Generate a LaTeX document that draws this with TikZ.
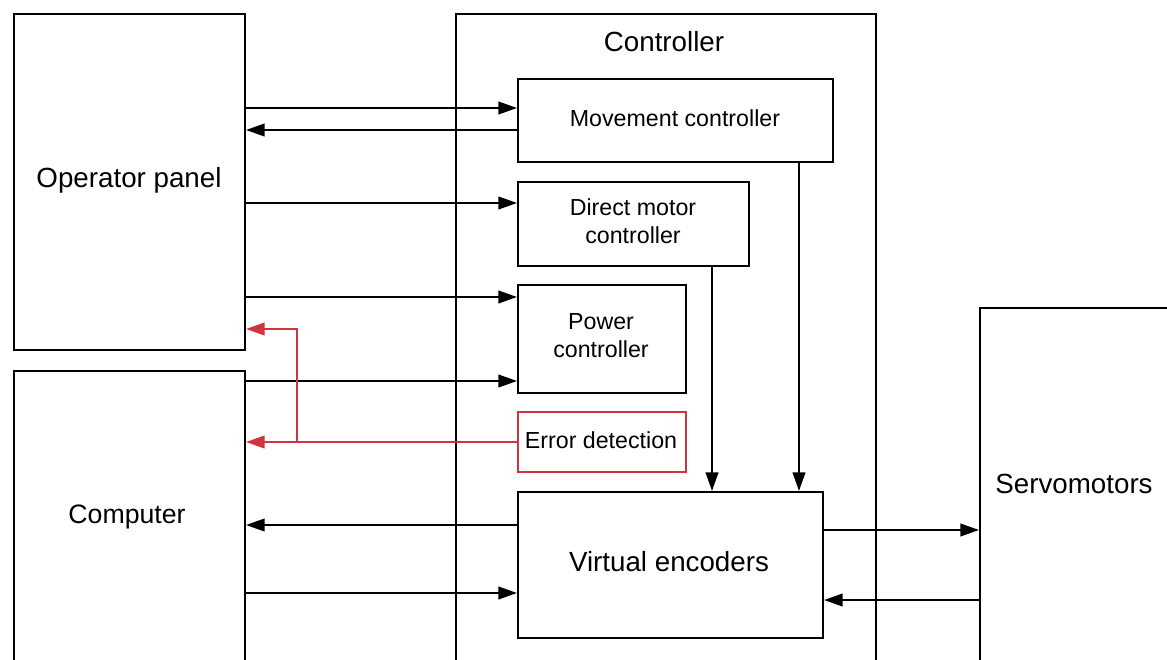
\documentclass[tikz,border=0pt]{standalone}
\usepackage{fontspec}
\setmainfont{Liberation Sans}
\usetikzlibrary{arrows.meta}
\definecolor{errred}{RGB}{208,52,62}
\tikzset{
  box/.style={draw=black, line width=1.5pt, rectangle, inner sep=0pt, anchor=north west},
  pxsize/.style 2 args={minimum width=#1*0.75pt, minimum height=#2*0.75pt},
  bigtext/.style={font=\fontsize{20.8}{25}\selectfont, inner sep=0pt},
  smalltext/.style={font=\fontsize{17.4}{21}\selectfont, align=center},
  arr/.style={line width=1.5pt, -{Triangle[length=14pt,width=9.5pt]}},
  redarr/.style={arr, color=errred}
}
\begin{document}
\begin{tikzpicture}[x=0.75pt, y=-0.75pt]
\useasboundingbox (0,0) rectangle (1167,660);
\fill[white] (0,0) rectangle (1167,660);
\clip (0,0) rectangle (1167,660);

% big boxes
\node[box, pxsize={231}{336}] (op) at (13,13) {};
\node[bigtext] (optext) at (129,180) {Operator panel};
\node[box, pxsize={231}{340}] (comp) at (13,370) {};
\node[bigtext, font=\fontsize{20}{24}\selectfont] (comptext) at (127,517) {Computer};
\node[box, pxsize={420}{690}] (ctrl) at (455,13) {};
\node[bigtext] (ctrltext) at (664,42) {Controller};
\node[box, pxsize={230}{400}] (servo) at (979,307) {};
\node[bigtext] (servotext) at (1074,484) {Servomotors};

% inner boxes
\node[box, pxsize={315}{83}] (mov) at (517,78) {};
\node[smalltext] (movtext) at (675,118) {Movement controller};
\node[box, pxsize={231}{84}] (dmc) at (517,181) {};
\node[smalltext] (dmctext) at (633,221) {Direct motor\\controller};
\node[box, pxsize={168}{108}] (pow) at (517,284) {};
\node[smalltext] (powtext) at (601,336) {Power\\controller};
\node[box, draw=errred, pxsize={168}{60}] (err) at (517,411) {};
\node[smalltext] (errtext) at (601,440) {Error detection};
\node[box, pxsize={305}{146}] (ve) at (517,491) {};
\node[bigtext] (vetext) at (669,562) {Virtual encoders};

% connectors
\draw[arr] (op.east |- 0,108) -- (mov.west |- 0,108);
\draw[arr] (mov.west |- 0,130) -- (op.east |- 0,130);
\draw[arr] (op.east |- 0,203) -- (dmc.west |- 0,203);
\draw[arr] (op.east |- 0,297) -- (pow.west |- 0,297);
\draw[arr] (comp.east |- 0,381) -- (pow.west |- 0,381);
\draw[arr] (ve.west |- 0,525) -- (comp.east |- 0,525);
\draw[arr] (comp.east |- 0,593) -- (ve.west |- 0,593);
\draw[arr] (dmc.south -| 712,0) -- (ve.north -| 712,0);
\draw[arr] (mov.south -| 799,0) -- (ve.north -| 799,0);
\draw[arr] (ve.east |- 0,530) -- (servo.west |- 0,530);
\draw[arr] (servo.west |- 0,600) -- (ve.east |- 0,600);

% error paths
\coordinate (split) at (297,441);
\draw[redarr] (err.west) -- (comp.east |- err.west);
\draw[redarr] (split) -- (split |- 0,329) -- (op.east |- 0,329);
\end{tikzpicture}
\end{document}
